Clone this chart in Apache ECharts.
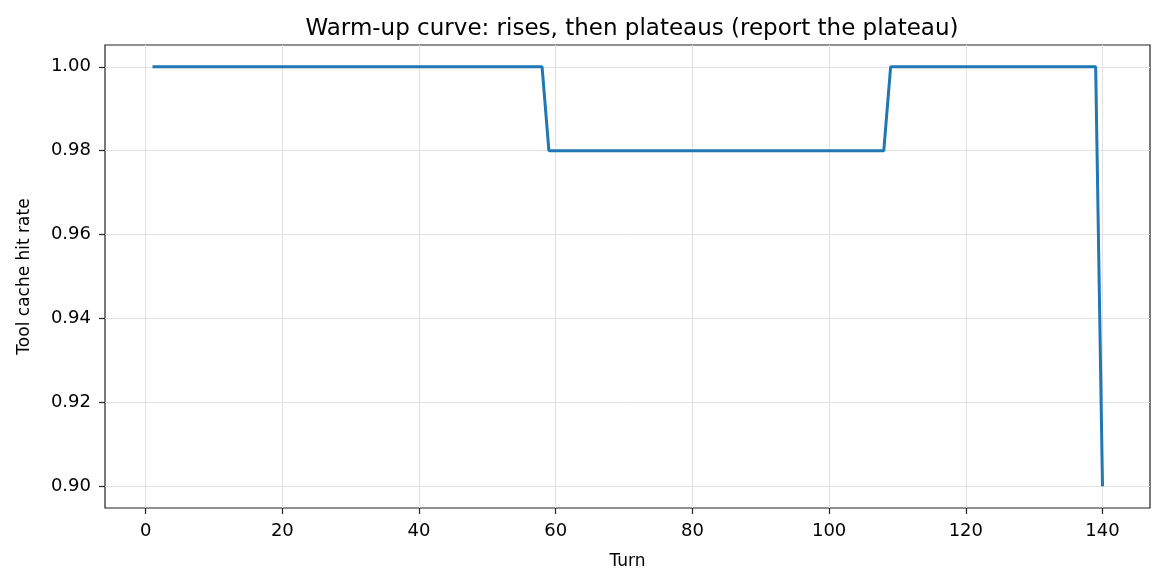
<!DOCTYPE html>
<html>
<head>
<meta charset="utf-8">
<script src="https://cdn.jsdelivr.net/npm/echarts@6/dist/echarts.min.js"></script>
<style>
  html, body { margin: 0; padding: 0; background: #fff; }
  #chart { width: 1166px; height: 588px; }
</style>
</head>
<body>
<div id="chart"></div>
<script>
// turns where the hit rate changes (line is flat between them)
const turns = [1, 58, 59, 108, 109, 139, 140];
const hitRate = [1.0, 1.0, 0.98, 0.98, 1.0, 1.0, 0.90];
const xTicks = [0, 20, 40, 60, 80, 100, 120, 140];
const yTicks = [0.90, 0.92, 0.94, 0.96, 0.98, 1.00];

const chart = echarts.init(document.getElementById('chart'));
const font = 'DejaVu Sans';

const option = {
  animation: false,
  title: {
    text: 'Warm-up curve: rises, then plateaus (report the plateau)',
    left: 627,
    top: 13,
    textAlign: 'center',
    textStyle: { fontFamily: font, fontSize: 23, fontWeight: 'normal', color: '#000' },
  },
  grid: {
    left: 105, right: 16, top: 45, bottom: 80,
    show: true, borderColor: '#222', borderWidth: 1.2, backgroundColor: 'transparent',
  },
  xAxis: {
    type: 'value',
    min: -5.95,
    max: 146.95,
    name: 'Turn',
    nameLocation: 'middle',
    nameGap: 45,
    nameTextStyle: { fontFamily: font, fontSize: 17, color: '#000' },
    axisLine: { show: false, onZero: false },
    axisTick: { show: true, length: 6, inside: false, customValues: xTicks, lineStyle: { color: '#222', width: 1.2 } },
    axisLabel: { customValues: xTicks, fontFamily: font, fontSize: 18, color: '#000', margin: 14 },
    splitLine: { show: true, lineStyle: { color: '#e2e2e2', width: 1 } },
  },
  yAxis: {
    type: 'value',
    min: 0.8948,
    max: 1.0052,
    name: 'Tool cache hit rate',
    nameLocation: 'middle',
    nameGap: 72,
    nameTextStyle: { fontFamily: font, fontSize: 17, color: '#000' },
    axisLine: { show: false, onZero: false },
    axisTick: { show: true, length: 6, inside: false, customValues: yTicks, lineStyle: { color: '#222', width: 1.2 } },
    axisLabel: {
      customValues: yTicks, fontFamily: font, fontSize: 18, color: '#000', margin: 14,
      formatter: (v) => v.toFixed(2),
    },
    splitLine: { show: true, lineStyle: { color: '#e2e2e2', width: 1 } },
  },
  series: [
    {
      type: 'line',
      data: turns.map((t, i) => [t, hitRate[i]]),
      showSymbol: false,
      lineStyle: { color: '#1f77b4', width: 3 },
      itemStyle: { color: '#1f77b4' },
    },
  ],
};
chart.setOption(option);
</script>
</body>
</html>
